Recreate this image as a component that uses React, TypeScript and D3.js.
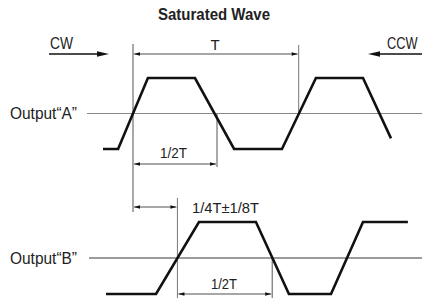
import React from "react";
import * as d3 from "d3";

interface Vertex {
    phase: number; // 주기(T) 단위
    level: number; // -1 = low, 1 = high
}

// 출력 A 파형 꼭짓점
const waveA: Vertex[] = [
    { phase: -0.181, level: -1 },
    { phase: -0.09, level: -1 },
    { phase: 0.09, level: 1 },
    { phase: 0.374, level: 1 },
    { phase: 0.61, level: -1 },
    { phase: 0.899, level: -1 },
    { phase: 1.104, level: 1 },
    { phase: 1.388, level: 1 },
    { phase: 1.557, level: -0.7 },
];

// 출력 B 파형 꼭짓점
const waveB: Vertex[] = [
    { phase: -0.163, level: -1 },
    { phase: 0.139, level: -1 },
    { phase: 0.398, level: 1 },
    { phase: 0.742, level: 1 },
    { phase: 0.941, level: -1 },
    { phase: 1.195, level: -1 },
    { phase: 1.388, level: 1 },
    { phase: 1.659, level: 1 },
];

const channelLabels = ["Output“A”", "Output“B”"];
const dimLabels = ["T", "1/2T", "1/4T±1/8T", "1/2T"];
// 치수선 [시작, 끝] (주기 단위)
const dimSpans: [number, number][] = [
    [0, 1],
    [0, 0.507],
    [0, 0.268],
    [0.268, 0.84],
];

const W = 422;
const H = 298;
const FONT = "'Liberation Sans', Arial, sans-serif";

const x = d3.scaleLinear().domain([0, 1]).range([133, 298.7]);
const yA = d3.scaleLinear().domain([-1, 1]).range([149, 78]);
const yB = d3.scaleLinear().domain([-1, 1]).range([294, 222]);

const lineA = d3.line<Vertex>().x((d) => x(d.phase)).y((d) => yA(d.level));
const lineB = d3.line<Vertex>().x((d) => x(d.phase)).y((d) => yB(d.level));

// 작은 화살표 (치수선)
const Arrow: React.FC<{ tipX: number; y: number; dir: number; len?: number; half?: number }> = ({
    tipX,
    y,
    dir,
    len = 6,
    half = 1.8,
}) => (
    <path
        d={`M${tipX},${y} L${tipX - dir * len},${y - half} L${tipX - dir * len},${y + half} Z`}
        fill="#111"
    />
);

const Dim: React.FC<{ span: [number, number]; y: number }> = ({ span, y }) => {
    const x1 = x(span[0]) + 1;
    const x2 = x(span[1]) - 1;
    return (
        <g>
            <line x1={x1} y1={y} x2={x2} y2={y} stroke="#222" strokeWidth={0.8} />
            <Arrow tipX={x1} y={y} dir={-1} />
            <Arrow tipX={x2} y={y} dir={1} />
        </g>
    );
};

const App: React.FC = () => {
    const midA = yA(0);
    const midB = yB(0);
    return (
        <svg
            width={W}
            height={H}
            style={{ position: "absolute", left: 0, top: 0, background: "#fff" }}
            fontFamily={FONT}
        >
            <rect width={W} height={H} fill="#fff" />

            {/* 제목 */}
            <text x={214} y={20} textAnchor="middle" fontSize={16} fontWeight="bold" fill="#222"
                textLength={112} lengthAdjust="spacingAndGlyphs">
                Saturated  Wave
            </text>

            {/* CW / CCW */}
            <text x={50} y={49} fontSize={16} fill="#222" textLength={23} lengthAdjust="spacingAndGlyphs">CW</text>
            <line x1={49} y1={54} x2={100} y2={54} stroke="#111" strokeWidth={1.5} />
            <Arrow tipX={109} y={54} dir={1} len={12} half={2.8} />
            <g transform="translate(387,49) scale(0.8,1)">
                <text x={0} y={0} fontSize={16} fill="#222">CCW</text>
            </g>
            <line x1={376} y1={54} x2={422} y2={54} stroke="#111" strokeWidth={1.5} />
            <Arrow tipX={368} y={54} dir={-1} len={12} half={2.8} />

            {/* 기준 세로선 */}
            <line x1={x(0)} y1={44} x2={x(0)} y2={212} stroke="#555" strokeWidth={1} />
            <line x1={x(1)} y1={45} x2={x(1)} y2={midA} stroke="#777" strokeWidth={1} />
            <line x1={x(0.507)} y1={midA} x2={x(0.507)} y2={167} stroke="#555" strokeWidth={1} />
            <line x1={x(0.268)} y1={198} x2={x(0.268)} y2={H} stroke="#777" strokeWidth={1} />
            <line x1={x(0.84)} y1={midB} x2={x(0.84)} y2={H} stroke="#555" strokeWidth={1} />

            {/* 중간선 */}
            <line x1={87} y1={midA} x2={W} y2={midA} stroke="#888" strokeWidth={1.2} />
            <line x1={89} y1={midB} x2={W} y2={midB} stroke="#222" strokeWidth={0.9} />

            {/* 채널 라벨 */}
            <text x={10} y={119} fontSize={16} fill="#222" textLength={67} lengthAdjust="spacingAndGlyphs">
                {channelLabels[0]}
            </text>
            <text x={10} y={264} fontSize={16} fill="#222" textLength={67} lengthAdjust="spacingAndGlyphs">
                {channelLabels[1]}
            </text>

            {/* 파형 */}
            <path d={lineA(waveA) ?? ""} fill="none" stroke="#111" strokeWidth={2.6} strokeLinejoin="miter" />
            <path d={lineB(waveB) ?? ""} fill="none" stroke="#111" strokeWidth={2.6} strokeLinejoin="miter" />

            {/* 치수선 */}
            <Dim span={dimSpans[0]} y={54} />
            <Dim span={dimSpans[1]} y={164} />
            <Dim span={dimSpans[2]} y={207} />
            <Dim span={dimSpans[3]} y={294} />

            {/* 치수 라벨 */}
            <text x={215} y={50} textAnchor="middle" fontSize={15} fill="#222">{dimLabels[0]}</text>
            <text x={160} y={158} fontSize={15} fill="#222" textLength={27} lengthAdjust="spacingAndGlyphs">{dimLabels[1]}</text>
            <text x={192} y={213} fontSize={15} fill="#222" textLength={67} lengthAdjust="spacingAndGlyphs">{dimLabels[2]}</text>
            <text x={211} y={289} fontSize={15} fill="#222" textLength={26} lengthAdjust="spacingAndGlyphs">{dimLabels[3]}</text>
        </svg>
    );
};

export default App;
